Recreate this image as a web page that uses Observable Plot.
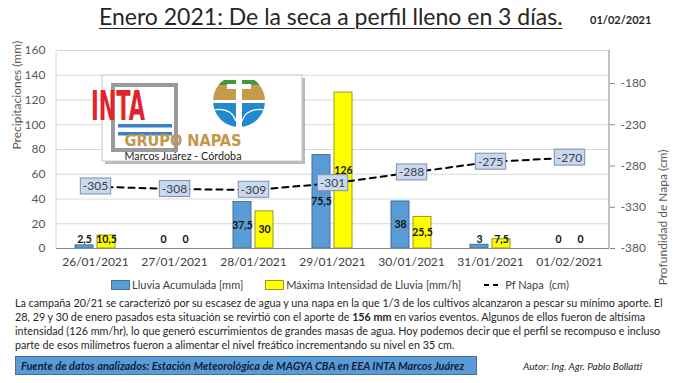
<!DOCTYPE html>
<html>
<head>
<meta charset="utf-8">
<script src="https://cdn.jsdelivr.net/npm/d3@7"></script>
<script src="https://cdn.jsdelivr.net/npm/@observablehq/plot@0.6"></script>
<style>
  body { margin: 0; background: #fff; font-family: Lato, "Open Sans", sans-serif; }
  #wrap { position: relative; width: 680px; height: 383px; overflow: hidden; background: #fff; }
  #title { position: absolute; left: 99px; top: 2px; font-size: 23px; color: #262626; text-decoration: underline; text-decoration-thickness: 1px; text-underline-offset: 3px; white-space: nowrap; }
  #date { position: absolute; left: 590px; top: 13px; font-size: 11px; font-weight: bold; color: #262626; }
  #chart { position: absolute; left: 0; top: 40px; }
  #legend { position: absolute; left: 0; top: 278px; width: 680px; display: flex; justify-content: center; gap: 22px; font-size: 11px; color: #404040; }
  #legend span.item { display: inline-flex; align-items: center; gap: 2px; }
  .sw { display: inline-block; width: 17px; height: 8px; }
  #para { position: absolute; left: 15px; top: 296px; width: 665px; font-size: 10.75px; line-height: 14px; color: #262626; white-space: nowrap; }
  #src { position: absolute; left: 15px; top: 356px; width: 462px; height: 19px; background: #5b9bd5; border: 1px solid #41719c; box-sizing: border-box; padding-left: 5px; font-size: 11px; font-style: italic; font-weight: bold; color: #10203f; line-height: 17px; }
  #autor { position: absolute; left: 523px; top: 360px; font-size: 10px; font-style: italic; color: #262626; }
</style>
</head>
<body>
<div id="wrap">
  <div id="title">Enero 2021: De la seca a perfil lleno en 3 días.</div>
  <div id="date">01/02/2021</div>
  <div id="chart"></div>
  <div id="legend"></div>
  <div id="para">La campaña 20/21 se caracterizó por su escasez de agua y una napa en la que 1/3 de los cultivos alcanzaron a pescar su mínimo aporte. El<br>28, 29 y 30 de enero pasados esta situación se revirtió con el aporte de <b>156 mm</b> en varios eventos. Algunos de ellos fueron de altísima<br>intensidad (126 mm/hr), lo que generó escurrimientos de grandes masas de agua. Hoy podemos decir que el perfil se recompuso e incluso<br>parte de esos milímetros fueron a alimentar el nivel freático incrementando su nivel en 35 cm.</div>
  <div id="src">Fuente de datos analizados: Estación Meteorológica de MAGYA CBA en EEA INTA Marcos Juárez</div>
  <div id="autor">Autor: Ing. Agr. Pablo Bollatti</div>
</div>
<script>
// ---- data ----
const dates = ["26/01/2021", "27/01/2021", "28/01/2021", "29/01/2021", "30/01/2021", "31/01/2021", "01/02/2021"];
const lluviaAcumulada = [2.5, 0, 37.5, 75.5, 38, 3, 0];
const maximaIntensidad = [10.5, 0, 30, 126, 25.5, 7.5, 0];
const pfNapa = [-305, -308, -309, -301, -288, -275, -270];
const leftTicks = [0, 20, 40, 60, 80, 100, 120, 140, 160];
const rightTicks = [-380, -330, -280, -230, -180];
const rightDomain = [-380, -140];
const seriesNames = ["Lluvia Acumulada [mm]", "Máxima Intensidad de Lluvia [mm/h]", "Pf Napa  (cm)"];

const data = dates.map((d, i) => ({date: d, lluvia: lluviaAcumulada[i], maxInt: maximaIntensidad[i], napa: pfNapa[i]}));
const toLeft = v => (v - rightDomain[0]) * 160 / (rightDomain[1] - rightDomain[0]);
const fromLeft = v => Math.round(v * (rightDomain[1] - rightDomain[0]) / 160 + rightDomain[0]);
const fmt = v => String(v).replace(".", ",");
const labelY = v => Math.max(v / 2, 7.3);

const blue = "#5b9bd5", blueStroke = "#41719c", yellow = "#ffff00", yellowStroke = "#9a9a20";
const napaText = "#404041";
const W = 680, H = 235, mL = 56, mR = 71, mT = 10, mB = 27;

const plot = Plot.plot({
  width: W, height: H,
  marginLeft: mL, marginRight: mR, marginTop: mT, marginBottom: mB,
  style: {fontFamily: "Lato, 'Open Sans', sans-serif", fontSize: "12px", background: "white", overflow: "visible"},
  x: {type: "band", domain: dates, paddingInner: 0.772, paddingOuter: 0.386},
  y: {domain: [0, 160]},
  marks: [
    Plot.gridY(leftTicks.filter(t => t > 0), {stroke: "#d9d9d9", strokeOpacity: 1}),
    Plot.axisY(leftTicks, {anchor: "left", tickSize: 0, tickPadding: 11, fill: "#595959", label: null, fontSize: 12}),
    Plot.axisY(rightTicks.map(toLeft), {anchor: "right", tickSize: 5, tickPadding: 6, stroke: "#868686", fill: "#595959", label: null, fontSize: 12, tickFormat: v => String(fromLeft(v))}),
    Plot.axisX({tickSize: 0, tickPadding: 9, fill: "#404040", label: null, fontSize: 12}),
    Plot.text(["Precipitaciones (mm)"], {frameAnchor: "left", dx: -39, rotate: -90, fontSize: 12, fill: "#595959"}),
    Plot.text(["Profundidad de Napa (cm)"], {frameAnchor: "right", dx: 54, rotate: -90, fontSize: 12, fill: "#595959"}),
    Plot.barY(data.filter(d => d.lluvia > 0), {x: "date", y: "lluvia", dx: -11, fill: blue, stroke: blueStroke, strokeWidth: 1}),
    Plot.barY(data.filter(d => d.maxInt > 0), {x: "date", y: "maxInt", dx: 11, fill: yellow, stroke: yellowStroke, strokeWidth: 1}),
    Plot.ruleY([0], {stroke: "#868686"}),
    Plot.text(data, {x: "date", y: d => labelY(d.lluvia), text: d => fmt(d.lluvia), dx: -11, fontWeight: "bold", fontSize: 10.5, fill: "#111"}),
    Plot.text(data, {x: "date", y: d => labelY(d.maxInt), text: d => fmt(d.maxInt), dx: 11, fontWeight: "bold", fontSize: 10.5, fill: "#111"}),
    Plot.line(data, {x: "date", y: d => toLeft(d.napa), stroke: "black", strokeWidth: 2, strokeDasharray: "6,5"}),
    Plot.text(data, {x: "date", y: d => toLeft(d.napa), text: d => String(d.napa), fontSize: 12, fill: napaText})
  ]
});
document.getElementById("chart").appendChild(plot);

const svg = d3.select(plot);
const NS = "http://www.w3.org/2000/svg";
// axis lines
svg.append("line").attr("x1", mL).attr("x2", mL).attr("y1", mT).attr("y2", H - mB).attr("stroke", "#d9d9d9");
svg.append("line").attr("x1", W - mR).attr("x2", W - mR).attr("y1", mT).attr("y2", H - mB).attr("stroke", "#868686");

// boxes behind napa labels: find the text group by its fill
plot.querySelectorAll("g").forEach(gEl => {
  if ((gEl.getAttribute("fill") || "").toLowerCase() !== napaText) return;
  Array.from(gEl.querySelectorAll("text")).forEach(t => {
    const b = t.getBBox();
    const r = document.createElementNS(NS, "rect");
    const tr = t.getAttribute("transform");
    if (tr) r.setAttribute("transform", tr);
    r.setAttribute("x", b.x - 2.5);
    r.setAttribute("y", b.y - 0.5);
    r.setAttribute("width", b.width + 5);
    r.setAttribute("height", b.height + 1);
    r.setAttribute("fill", "#c6d9f0");
    r.setAttribute("stroke", "#7f8fa6");
    r.setAttribute("stroke-width", "1");
    gEl.insertBefore(r, t);
  });
});

// logo (picture in the original)
const g = svg.append("g").attr("font-family", "Lato, sans-serif");
const oy = -40;
g.append("rect").attr("x", 105).attr("y", 78 + oy).attr("width", 200).attr("height", 86).attr("fill", "#8c8c8c").attr("fill-opacity", 0.6).attr("stroke", "none");
g.append("rect").attr("x", 102).attr("y", 75 + oy).attr("width", 200).attr("height", 86).attr("fill", "#ffffff").attr("stroke", "#c8c8c8");
g.append("rect").attr("x", 113).attr("y", 85 + oy).attr("width", 63).attr("height", 65).attr("fill", "#ffffff").attr("stroke", "#9a9a9a").attr("stroke-width", 4);
g.append("text").attr("x", 118).attr("y", 120 + oy).attr("font-family", "'DejaVu Sans Condensed', 'DejaVu Sans', sans-serif").attr("font-weight", "bold").attr("font-size", 40).attr("fill", "#e2232e").attr("textLength", 54).attr("lengthAdjust", "spacingAndGlyphs").text("INTA");
g.append("rect").attr("x", 118).attr("y", 124 + oy).attr("width", 54).attr("height", 3.5).attr("fill", "#3b7fc6");
g.append("rect").attr("x", 118).attr("y", 132 + oy).attr("width", 54).attr("height", 3.5).attr("fill", "#3b7fc6");
const cx = 239, cy = 101 + oy, rr = 26;
const clip = svg.append("defs").append("clipPath").attr("id", "napaclip");
clip.append("circle").attr("cx", cx).attr("cy", cy).attr("r", rr);
const lg = g.append("g").attr("clip-path", "url(#napaclip)");
lg.append("rect").attr("x", cx - rr).attr("y", cy - rr + 5).attr("width", 2 * rr).attr("height", 5).attr("fill", "#3f9a3c");
lg.append("rect").attr("x", cx - rr).attr("y", cy - rr + 10).attr("width", 2 * rr).attr("height", 15).attr("fill", "#c79a4b");
lg.append("rect").attr("x", cx - rr).attr("y", cy + 2).attr("width", 2 * rr).attr("height", rr).attr("fill", "#2389cf");
lg.append("path").attr("d", `M${cx - rr},${cy + 9} Q${cx - 8},${cy + 6} ${cx - 3},${cy + 20}`).attr("stroke", "white").attr("fill", "none").attr("stroke-width", 1.2);
lg.append("path").attr("d", `M${cx + rr},${cy + 9} Q${cx + 8},${cy + 6} ${cx + 3},${cy + 20}`).attr("stroke", "white").attr("fill", "none").attr("stroke-width", 1.2);
g.append("rect").attr("x", cx - 3).attr("y", cy - rr + 3).attr("width", 6).attr("height", 2 * rr - 3).attr("fill", "white");
g.append("rect").attr("x", cx - 12).attr("y", cy - 17).attr("width", 24).attr("height", 5).attr("fill", "white");
g.append("text").attr("x", 183).attr("y", 145.5 + oy).attr("font-family", "'DejaVu Sans Condensed', 'DejaVu Sans', sans-serif").attr("font-weight", "bold").attr("font-size", 15.5).attr("fill", "#c2964b").attr("textLength", 117).attr("lengthAdjust", "spacingAndGlyphs").text("GRUPO NAPAS");
g.append("text").attr("x", 183).attr("y", 160 + oy).attr("font-size", 10.5).attr("fill", "#1a1a1a").attr("textLength", 117).attr("lengthAdjust", "spacingAndGlyphs").text("Marcos Juárez - Córdoba");

// legend
const legend = d3.select("#legend");
const i1 = legend.append("span").attr("class", "item");
i1.append("span").attr("class", "sw").style("background", blue).style("border", `1px solid ${blueStroke}`);
i1.append("span").text(seriesNames[0]);
const i2 = legend.append("span").attr("class", "item");
i2.append("span").attr("class", "sw").style("background", yellow).style("border", `1px solid ${yellowStroke}`);
i2.append("span").text(seriesNames[1]);
const i3 = legend.append("span").attr("class", "item");
const ls = i3.append("svg").attr("width", 20).attr("height", 8);
ls.append("line").attr("x1", 1).attr("x2", 19).attr("y1", 4).attr("y2", 4).attr("stroke", "black").attr("stroke-width", 2).attr("stroke-dasharray", "5,4");
i3.append("span").style("white-space", "pre").text(seriesNames[2]);
</script>
</body>
</html>
